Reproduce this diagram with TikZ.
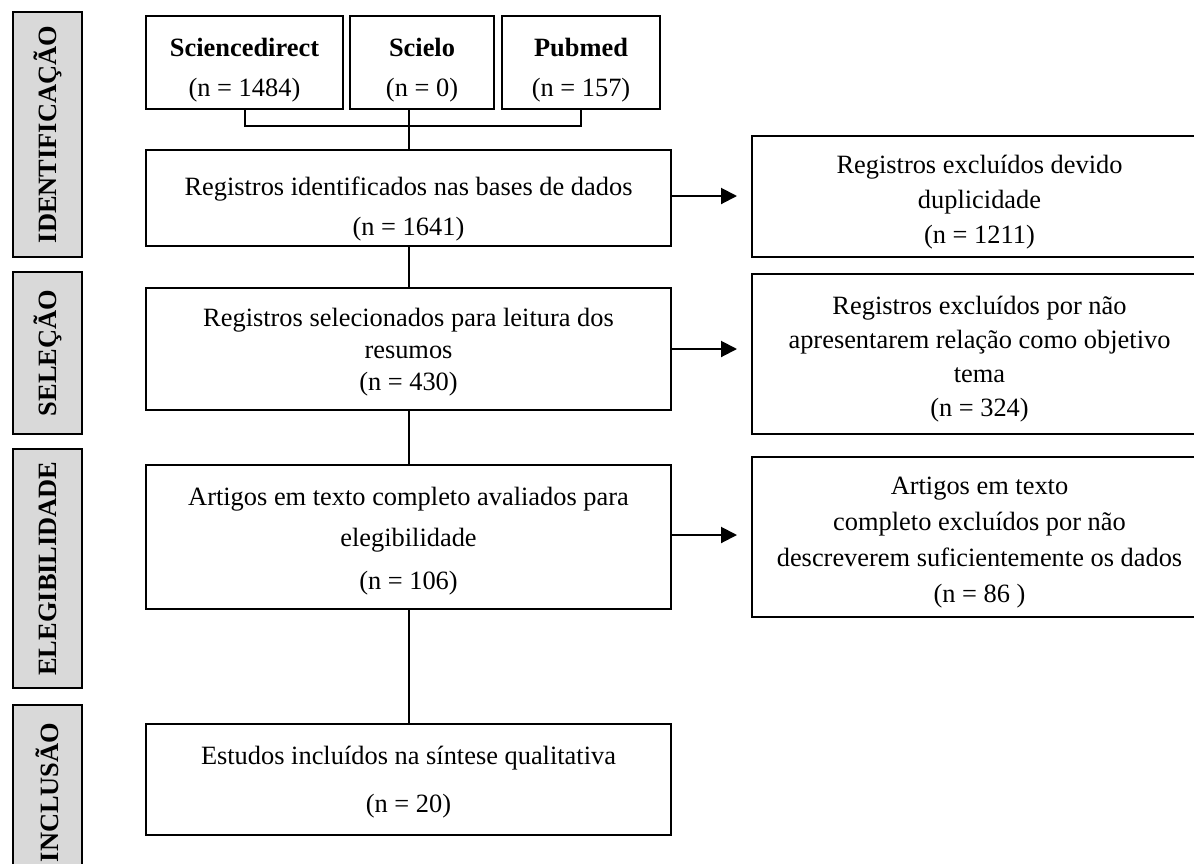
\documentclass[tikz,border=0pt]{standalone}
\usepackage{fontspec}
\setmainfont{Liberation Serif}
\usetikzlibrary{arrows.meta, calc}
\definecolor{barGray}{RGB}{217,217,217}
\newcommand{\topgap}[1]{\rule{0pt}{#1}}
\tikzset{
  box/.style={draw=black, line width=1pt, align=center, inner sep=2pt, font=\fontsize{13.2}{#1}\selectfont},
  box/.default=20pt,
  stagebar/.style={draw=black, fill=barGray, line width=1pt, rotate=90, inner sep=0pt,
    minimum height=34.5pt, font=\fontsize{13.2}{15}\selectfont\bfseries},
  link/.style={line width=1pt},
  arrow/.style={line width=1pt, -{Triangle[length=8pt, width=8pt]}}
}

\begin{document}
\begin{tikzpicture}[x=0.5pt, y=-0.5pt]

  \useasboundingbox (0,0) rectangle (1194,863);

  % stage bars
  \node[stagebar, minimum width=122.5pt] (barId) at (47.5,134.5) {IDENTIFICAÇÃO};
  \node[stagebar, minimum width=81pt] (barSel) at (47.5,353) {SELEÇÃO};
  \node[stagebar, minimum width=119.5pt] (barEleg) at (47.5,568.5) {ELEGIBILIDADE};
  \node[stagebar, minimum width=87.5pt] (barIncl) at (47.5,792.5) {INCLUSÃO};

  % databases
  \node[box, minimum width=98.5pt, minimum height=46.5pt] (sd) at (244.5,62.5) {\topgap{16.4pt}\textbf{Sciencedirect}\\(n = 1484)};
  \node[box, minimum width=72pt, minimum height=46.5pt] (sl) at (422,62.5) {\topgap{16.4pt}\textbf{Scielo}\\(n = 0)};
  \node[box, minimum width=79pt, minimum height=46.5pt] (pm) at (581,62.5) {\topgap{16.4pt}\textbf{Pubmed}\\(n = 157)};

  % main column
  \node[box, minimum width=262.5pt, minimum height=46pt] (ident) at (408.5,198) {\topgap{20.8pt}Registros identificados nas bases de dados\\(n = 1641)};
  \node[box=16pt, minimum width=262.5pt, minimum height=61pt] (selec) at (408.5,349) {\topgap{12.8pt}Registros selecionados para leitura dos\\resumos\\(n = 430)};
  \node[box=21pt, minimum width=262.5pt, minimum height=72pt] (artig) at (408.5,537) {\topgap{12.8pt}Artigos em texto completo avaliados para\\elegibilidade\\(n = 106)};
  \node[box=24pt, minimum width=262.5pt, minimum height=55.5pt] (estud) at (408.5,779.5) {\topgap{11.3pt}Estudos incluídos na síntese qualitativa\\(n = 20)};

  % exclusions (right edge runs off the page)
  \node[box=17.5pt, minimum width=227.5pt, minimum height=60.5pt] (dupl) at (979.5,196.5) {\topgap{15.3pt}Registros excluídos devido\\duplicidade\\(n = 1211)};
  \node[box=17.15pt, minimum width=227.5pt, minimum height=80pt] (rela) at (979.5,354) {\topgap{14.3pt}Registros excluídos por não\\apresentarem relação como objetivo\\tema\\(n = 324)};
  \node[box=18pt, minimum width=227.5pt, minimum height=80pt] (dados) at (979.5,537) {\topgap{13.9pt}Artigos em texto\\completo excluídos por não\\descreverem suficientemente os dados\\(n = 86 )};

  \coordinate (jn) at (408.5,126);

  \draw[link] (sd.south) |- (jn) -| (pm.south);
  \draw[link] (ident.north) -- (ident.north |- sl.south);
  \draw[link] (ident.south) -- (selec.north);
  \draw[link] (selec.south) -- (artig.north);
  \draw[link] (artig.south) -- (estud.north);

  \draw[arrow] ($ (ident.east) + (0,1pt) $) -- ($ (ident.east -| dupl.west) + (-7pt,1pt) $);
  \draw[arrow] (selec.east) -- ($ (selec.east -| rela.west) - (7pt,0) $);
  \draw[arrow] ($ (artig.east) + (0,1pt) $) -- ($ (artig.east -| dados.west) + (-7pt,1pt) $);

\end{tikzpicture}
\end{document}
